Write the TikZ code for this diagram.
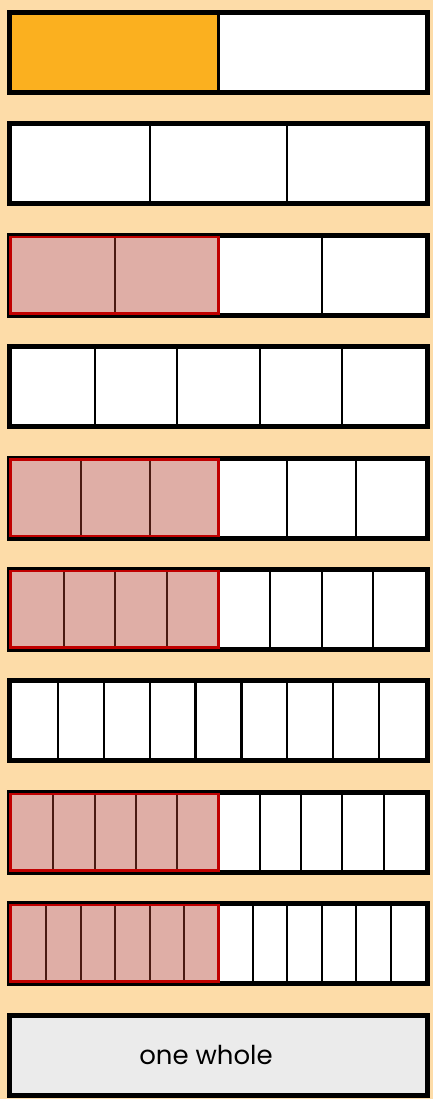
\documentclass[tikz,border=0pt]{standalone}
\usepackage{fontspec}
\setmainfont{Poppins}
\usepackage{xcolor}
\usetikzlibrary{calc}
\definecolor{StripBack}{HTML}{FDDCA8}
\definecolor{HalfOrange}{HTML}{FBB01F}
\definecolor{PartPink}{HTML}{DFAEA6}
\definecolor{PartRed}{HTML}{C00000}
\definecolor{PartLine}{HTML}{4A1A12}
\definecolor{WholeGrey}{HTML}{EBEBEB}

\begin{document}
\begin{tikzpicture}[
  x=0.75pt, y=-0.75pt,
  strip/.style={draw=black,line width=3.75pt,fill=white},
  divider/.style={draw=black,line width=1.6pt},
  pinkdivider/.style={draw=PartLine,line width=1.6pt},
  redframe/.style={draw=PartRed,line width=1.9pt},
  wholebox/.style={draw=black,line width=3.75pt,fill=WholeGrey,
    minimum width=313.5pt,minimum height=60pt,inner sep=0pt},
  wholetext/.style={font=\fontsize{19.5}{23}\selectfont}
]
  \fill[StripBack] (0,0) rectangle (433,1099);
  \useasboundingbox (0,0) rectangle (433,1099);

  % one half
  \draw[strip] (9.5,12.5) rectangle (427.5,92.5);
  \fill[HalfOrange] (12,15) rectangle (218.5,90);
  \draw[divider] (218.5,15) -- (218.5,90);

  % the other strips: row / parts / shaded parts
  \foreach \r/\n/\s in {1/3/0, 2/4/2, 3/5/0, 4/6/3, 5/8/4, 6/9/0, 7/10/5, 8/12/6}{
    \pgfmathsetmacro\top{10+111.4*\r}
    \pgfmathtruncatemacro\last{\n-1}
    \draw[strip] (9.5,\top+2.5) rectangle (427.5,\top+82.5);
    \ifnum\s>0
      \fill[PartPink] (12,\top+5) rectangle (218.5,\top+80);
    \fi
    \foreach \k in {1,...,\last}{
      \ifnum\k<\s
        \draw[pinkdivider] ({12+413*\k/\n},\top+5) -- ({12+413*\k/\n},\top+80);
      \else
        \draw[divider] ({12+413*\k/\n},\top+5) -- ({12+413*\k/\n},\top+80);
      \fi
    }
    \ifnum\s>0
      \draw[redframe] (10.5,\top+4) rectangle (218.5,\top+80.5);
    \fi
  }

  \node[wholebox] (whole) at (218.5,1055) {};
  \node[wholetext] (wholelabel) at (206,1055) {one whole};
\end{tikzpicture}
\end{document}
